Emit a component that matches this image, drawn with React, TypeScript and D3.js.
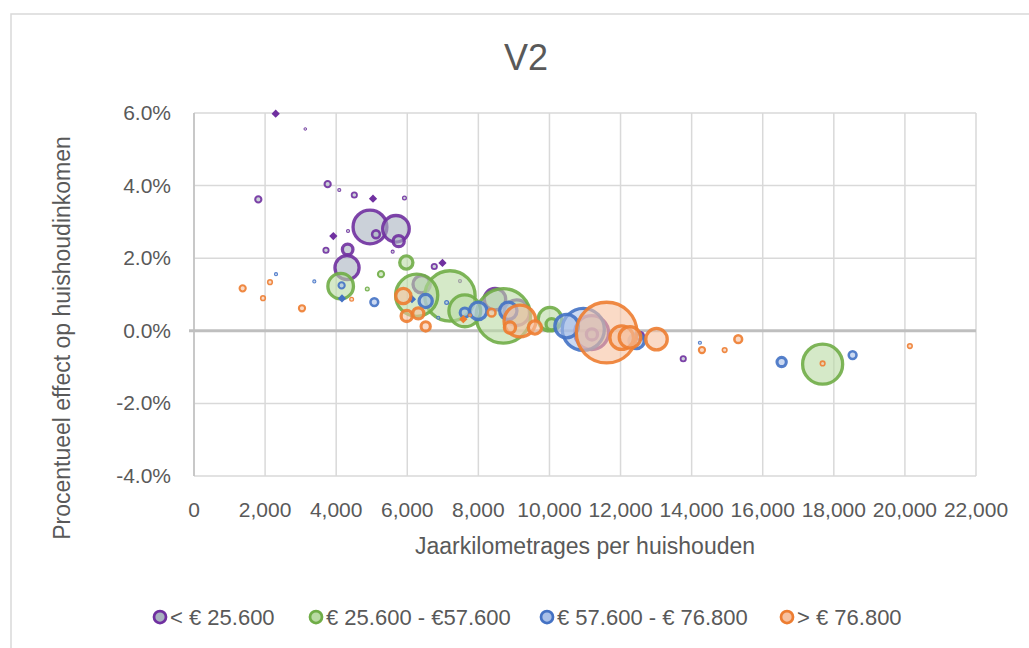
import React, { useEffect, useRef } from "react";
import * as d3 from "d3";

// [jaarkilometrage, effect %, bubble size]
type Pt = [number, number, number];

const seriesNames = ["< € 25.600", "€ 25.600 - €57.600", "€ 57.600 - € 76.800", "> € 76.800"];

const lowIncome: Pt[] = [
  [1809, 3.62, 16], [3131, 5.56, 3], [3713, 2.22, 12], [3760, 4.04, 16],
  [4087, 3.88, 4], [4305, 1.74, 177], [4323, 2.24, 45], [4333, 2.75, 4],
  [4510, 3.74, 12], [4951, 2.86, 324], [5120, 2.66, 25], [5589, 2.18, 4],
  [5682, 2.81, 210], [5758, 2.47, 49], [5921, 3.66, 6], [6405, 1.28, 100],
  [6760, 1.77, 12], [7483, 1.37, 4], [8467, 0.87, 144], [9078, 0.5, 196],
  [11187, -0.05, 324], [11196, -0.1, 49], [12546, -0.14, 25], [13764, -0.77, 12],
];
const lowDiamonds: [number, number][] = [[2298, 5.98], [3920, 2.61], [5036, 3.64], [6990, 1.87]];

const midIncome: Pt[] = [
  [4126, 1.23, 196], [4875, 1.15, 6], [5261, 1.56, 16], [5973, 1.88, 64],
  [6265, 0.98, 484], [7201, 0.96, 676], [7618, 0.55, 289], [8702, 0.41, 784],
  [10014, 0.32, 169], [10061, 0.18, 49], [17685, -0.92, 441],
];
const midDiamonds: [number, number][] = [];

const upperIncome: Pt[] = [
  [2307, 1.56, 4], [3385, 1.36, 4], [4153, 1.25, 16], [5073, 0.79, 25],
  [6518, 0.82, 64], [6872, 0.36, 4], [7107, 0.78, 6], [7618, 0.5, 36],
  [7997, 0.55, 100], [8842, 0.55, 100], [10483, 0.13, 169], [10952, 0.04, 484],
  [12452, -0.28, 81], [14233, -0.33, 4], [16532, -0.86, 36], [18529, -0.67, 25],
];
const upperDiamonds: [number, number][] = [[4163, 0.89], [6132, 0.87]];

const highIncome: Pt[] = [
  [1369, 1.17, 16], [1941, 0.9, 9], [2138, 1.34, 9], [3038, 0.62, 16],
  [4435, 0.87, 6], [5888, 0.96, 81], [5983, 0.41, 49], [6310, 0.48, 49],
  [6518, 0.12, 36], [7764, 0.43, 4], [8374, 0.5, 25], [8889, 0.09, 49],
  [9170, 0.27, 289], [9592, 0.09, 64], [11609, -0.05, 961], [12031, -0.19, 169],
  [12265, -0.18, 144], [13012, -0.23, 144], [14290, -0.53, 16], [14929, -0.53, 9],
  [15311, -0.23, 25], [17685, -0.9, 9], [20140, -0.42, 9],
];
const highDiamonds: [number, number][] = [[7576, 0.32]];

const xTicks = [0, 2000, 4000, 6000, 8000, 10000, 12000, 14000, 16000, 18000, 20000, 22000];
const yTicks = [-4, -2, 0, 2, 4, 6];

const strokes = ["#7030a0", "#70ad47", "#4472c4", "#ed7d31"];
const fills = ["#a9b2c0", "#b9dba3", "#a9c0e8", "#f7c1a0"];

const FONT = "'Liberation Sans', Arial, sans-serif";
const TXT = "#595959";

const App = () => {
  const ref = useRef<SVGSVGElement>(null);

  useEffect(() => {
    const W = 1029, H = 648;
    const plot = { left: 194, right: 976, top: 113, bottom: 476 };

    const svg = d3.select(ref.current);
    svg.selectAll("*").remove();
    svg.attr("width", W).attr("height", H);

    svg.append("rect").attr("width", W).attr("height", H).attr("fill", "#fff");
    svg.append("rect")
      .attr("x", 11).attr("y", 14).attr("width", W + 20).attr("height", H + 20)
      .attr("fill", "none").attr("stroke", "#d9d9d9").attr("stroke-width", 1.5);

    const x = d3.scaleLinear().domain([0, 22000]).range([plot.left, plot.right]);
    const y = d3.scaleLinear().domain([-4, 6]).range([plot.bottom, plot.top]);
    const allSizes = [lowIncome, midIncome, upperIncome, highIncome].flat().map(d => d[2]);
    const r = d3.scaleSqrt().domain([0, d3.max(allSizes) as number]).range([0, 32]);

    // gridlines
    const grid = svg.append("g");
    grid.selectAll("line.v").data(xTicks).enter().append("line")
      .attr("x1", d => x(d)).attr("x2", d => x(d))
      .attr("y1", plot.top).attr("y2", plot.bottom)
      .attr("stroke", "#d9d9d9").attr("stroke-width", 1.5);
    grid.selectAll("line.h").data(yTicks).enter().append("line")
      .attr("x1", plot.left).attr("x2", plot.right)
      .attr("y1", d => y(d)).attr("y2", d => y(d))
      .attr("stroke", "#d9d9d9").attr("stroke-width", 1.5);
    svg.append("line")
      .attr("x1", plot.left).attr("x2", plot.left)
      .attr("y1", plot.top).attr("y2", plot.bottom)
      .attr("stroke", "#bfbfbf").attr("stroke-width", 1.5);
    svg.append("line")
      .attr("x1", plot.left - 5).attr("x2", plot.right)
      .attr("y1", y(0)).attr("y2", y(0))
      .attr("stroke", "#bfbfbf").attr("stroke-width", 3);

    // tick labels
    svg.append("g").selectAll("text").data(xTicks).enter().append("text")
      .attr("x", d => x(d)).attr("y", 517)
      .attr("text-anchor", "middle")
      .attr("font-family", FONT).attr("font-size", 21).attr("fill", TXT)
      .text(d => d3.format(",")(d));
    svg.append("g").selectAll("text").data(yTicks).enter().append("text")
      .attr("x", 171).attr("y", d => y(d) + 7)
      .attr("text-anchor", "end")
      .attr("font-family", FONT).attr("font-size", 21).attr("fill", TXT)
      .text(d => `${d.toFixed(1)}%`);

    // titles
    svg.append("text")
      .attr("x", 526).attr("y", 70).attr("text-anchor", "middle")
      .attr("font-family", FONT).attr("font-size", 36).attr("fill", TXT)
      .text("V2");
    svg.append("text")
      .attr("x", 585).attr("y", 554).attr("text-anchor", "middle")
      .attr("font-family", FONT).attr("font-size", 23).attr("fill", TXT)
      .text("Jaarkilometrages per huishouden");
    svg.append("text")
      .attr("transform", "translate(70,338) rotate(-90)")
      .attr("text-anchor", "middle")
      .attr("font-family", FONT).attr("font-size", 23).attr("fill", TXT)
      .text("Procentueel effect op huishoudinkomen");

    // bubbles
    const series = [
      { pts: lowIncome, dia: lowDiamonds },
      { pts: midIncome, dia: midDiamonds },
      { pts: upperIncome, dia: upperDiamonds },
      { pts: highIncome, dia: highDiamonds },
    ];
    const diamond = d3.symbol().type(d3.symbolSquare).size(34);
    series.forEach((s, i) => {
      const g = svg.append("g");
      const sorted = [...s.pts].sort((a, b) => b[2] - a[2]);
      const sw = (d: Pt) => Math.min(3.3, r(d[2]) * 0.5);
      g.selectAll("circle").data(sorted).enter().append("circle")
        .attr("cx", d => x(d[0])).attr("cy", d => y(d[1]))
        .attr("r", d => Math.max(1, r(d[2]) - sw(d) / 2))
        .attr("fill", fills[i]).attr("fill-opacity", 0.6)
        .attr("stroke", strokes[i]).attr("stroke-opacity", 0.9)
        .attr("stroke-width", sw);
      g.selectAll("path").data(s.dia).enter().append("path")
        .attr("transform", d => `translate(${x(d[0])},${y(d[1])}) rotate(45)`)
        .attr("d", diamond())
        .attr("fill", strokes[i]);
    });

    // legend
    const legendX = [160, 316, 547, 787];
    const lg = svg.append("g");
    seriesNames.forEach((name, i) => {
      lg.append("circle")
        .attr("cx", legendX[i]).attr("cy", 617).attr("r", 6)
        .attr("fill", fills[i]).attr("stroke", strokes[i]).attr("stroke-width", 2.75);
      lg.append("text")
        .attr("x", legendX[i] + 10).attr("y", 625)
        .attr("font-family", FONT).attr("font-size", 22).attr("fill", TXT)
        .text(name);
    });
  }, []);

  return <svg ref={ref} style={{ position: "absolute", left: 0, top: 0, display: "block" }}></svg>;
};

export default App;
